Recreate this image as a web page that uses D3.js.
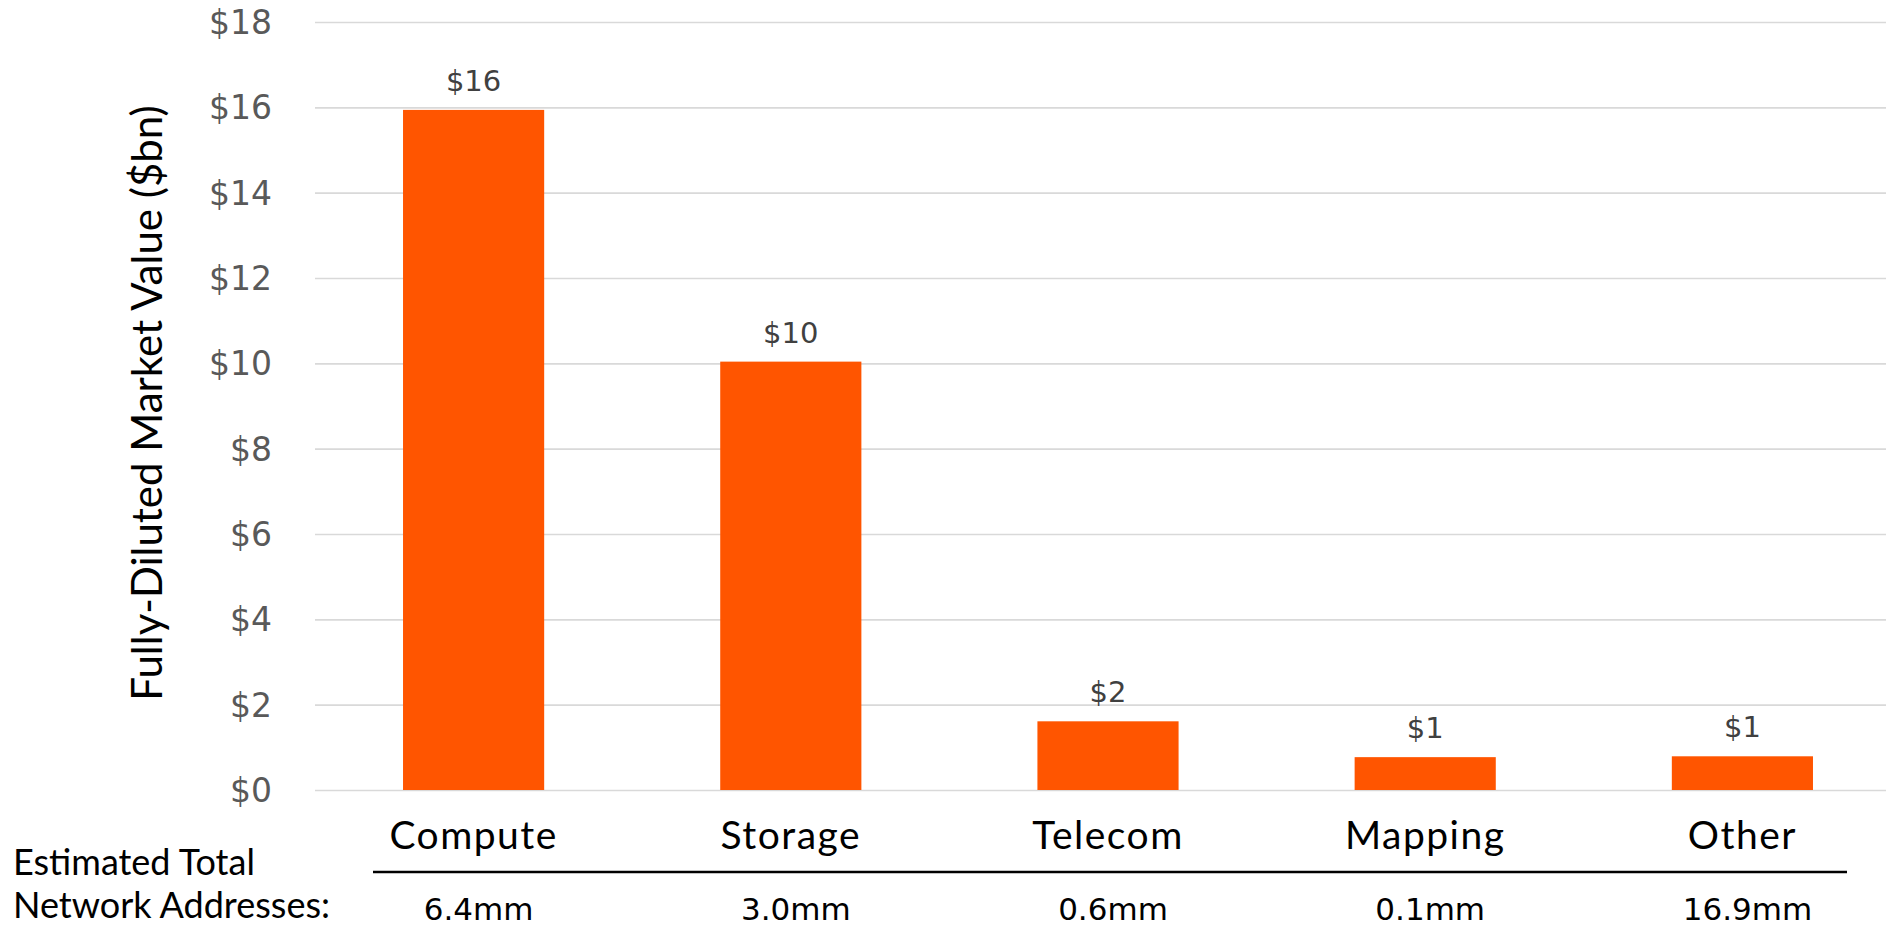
<!DOCTYPE html>
<html>
<head>
<meta charset="utf-8">
<script src="https://cdn.jsdelivr.net/npm/d3@7"></script>
<style>
  html, body { margin: 0; padding: 0; background: #ffffff; }
  svg { display: block; }
</style>
</head>
<body>
<svg id="chart" width="1886" height="929"></svg>
<script>
// Fully-diluted market value by network category ($bn)
const categories = ["Compute", "Storage", "Telecom", "Mapping", "Other"];
const marketValues = [15.94, 10.04, 1.61, 0.77, 0.79];
const networkAddresses = ["6.4mm", "3.0mm", "0.6mm", "0.1mm", "16.9mm"];
const yTicks = [0, 2, 4, 6, 8, 10, 12, 14, 16, 18];

const W = 1886, H = 929;
const plot = { left: 315, right: 1901, top: 22, bottom: 790 };

const svg = d3.select("#chart");

const x = d3.scaleBand()
  .domain(categories)
  .range([plot.left, plot.right])
  .paddingInner(0.555)
  .paddingOuter(0.2775);

const y = d3.scaleLinear()
  .domain([0, 18])
  .range([plot.bottom, plot.top]);

const money = v => "$" + d3.format(".0f")(v);

// Value axis with gridlines
const yAxis = d3.axisLeft(y)
  .tickValues(yTicks)
  .tickFormat(money)
  .tickSizeInner(-(W - plot.left))
  .tickSizeOuter(0)
  .tickPadding(43);

const gy = svg.append("g")
  .attr("transform", `translate(${plot.left},0)`)
  .call(yAxis);
gy.select(".domain").remove();
gy.selectAll(".tick line")
  .attr("stroke", "#d9d9d9")
  .attr("stroke-width", 1.6);
gy.selectAll(".tick text")
  .attr("fill", "#595959")
  .attr("dy", "0.35em")
  .style("font-family", "'DejaVu Sans', sans-serif")
  .style("font-size", "33px");

// Bars
svg.append("g")
  .selectAll("rect")
  .data(marketValues)
  .join("rect")
  .attr("x", (d, i) => x(categories[i]))
  .attr("y", d => y(d))
  .attr("width", x.bandwidth())
  .attr("height", d => y(0) - y(d))
  .attr("fill", "#ff5500");

// Value labels above bars
svg.append("g")
  .selectAll("text")
  .data(marketValues)
  .join("text")
  .attr("x", (d, i) => x(categories[i]) + x.bandwidth() / 2)
  .attr("y", d => y(d) - 19)
  .attr("text-anchor", "middle")
  .attr("fill", "#404040")
  .style("font-family", "'DejaVu Sans', sans-serif")
  .style("font-size", "29px")
  .text(d => money(d));

// Category labels
const labelFont = "Lato, 'Open Sans', sans-serif";
svg.append("g")
  .selectAll("text")
  .data(categories)
  .join("text")
  .attr("x", d => x(d) + x.bandwidth() / 2)
  .attr("y", 849)
  .attr("text-anchor", "middle")
  .attr("fill", "#000")
  .style("font-family", labelFont)
  .style("font-size", "39px")
  .style("letter-spacing", "1.5px")
  .text(d => d);

// Separator rule under the category labels
svg.append("line")
  .attr("x1", 373).attr("x2", 1847)
  .attr("y1", 872).attr("y2", 872)
  .attr("stroke", "#000")
  .attr("stroke-width", 2.6);

// Network address counts
svg.append("g")
  .selectAll("text")
  .data(networkAddresses)
  .join("text")
  .attr("x", (d, i) => x(categories[i]) + x.bandwidth() / 2 + 5)
  .attr("y", 920)
  .attr("text-anchor", "middle")
  .attr("fill", "#000")
  .style("font-family", "'DejaVu Sans', sans-serif")
  .style("font-size", "31px")
  .text(d => d);

// Row caption on the left
const caption = svg.append("text")
  .attr("x", 13)
  .attr("fill", "#000")
  .style("font-family", labelFont)
  .style("font-size", "36px");
caption.append("tspan").attr("x", 13).attr("y", 875).text("Estimated Total");
caption.append("tspan").attr("x", 13).attr("y", 918).text("Network Addresses:");

// Value axis title
svg.append("text")
  .attr("transform", `translate(162,403) rotate(-90)`)
  .attr("text-anchor", "middle")
  .attr("fill", "#000")
  .style("font-family", labelFont)
  .style("font-size", "42px")
  .text("Fully-Diluted Market Value ($bn)");
</script>
</body>
</html>
